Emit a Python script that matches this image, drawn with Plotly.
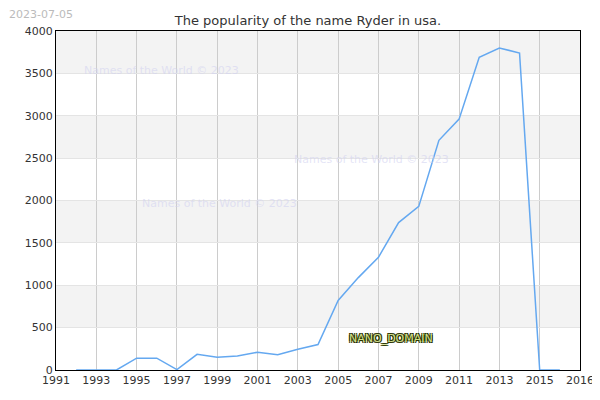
import plotly.graph_objects as go

years = list(range(1992, 2017))
counts = [0, 0, 0, 140, 140, 5, 185, 150, 165, 210, 180, 245, 300, 820, 1090,
          1330, 1740, 1930, 2710, 2960, 3690, 3800, 3740, 0, 0]
x_tick_vals = [1991, 1993, 1995, 1997, 1999, 2001, 2003, 2005, 2007, 2009, 2011, 2013, 2015, 2017]
x_tick_text = ["1991", "1993", "1995", "1997", "1999", "2001", "2003", "2005", "2007",
               "2009", "2011", "2013", "2015", "2016"]
y_ticks = [0, 500, 1000, 1500, 2000, 2500, 3000, 3500, 4000]

fig = go.Figure(go.Scatter(x=years, y=counts, mode="lines",
                           line=dict(color="#64a8f0", width=1.5)))

# alternating horizontal bands
for lo in (500, 1500, 2500, 3500):
    fig.add_shape(type="rect", xref="paper", x0=0, x1=1, y0=lo, y1=lo + 500,
                  fillcolor="#f3f3f3", line_width=0, layer="below")

for txt, x, y in [("Names of the World © 2023", 0.05, 0.91),
                  ("Names of the World © 2023", 0.45, 0.62),
                  ("Names of the World © 2023", 0.16, 0.49)]:
    fig.add_annotation(text=txt, xref="paper", yref="paper", x=x, y=y, xanchor="left",
                       showarrow=False, font=dict(color="rgba(210,210,240,0.6)", size=11))

fig.add_annotation(text="NANO_DOMAIN", xref="paper", x=0.64, y=370, xanchor="center",
                   showarrow=False,
                   font=dict(color="#d4e08a", size=11, family="DejaVu Sans",
                             shadow="1px 1px 0 #2a3300, -1px -1px 0 #2a3300, 1px -1px 0 #2a3300, -1px 1px 0 #2a3300"))
fig.add_annotation(text="2023-07-05", xref="paper", yref="paper", x=-0.093, y=1.075,
                   xanchor="left", showarrow=False, font=dict(color="#bbbbbb", size=11))

fig.update_layout(
    width=600, height=400, template="plotly_white",
    plot_bgcolor="white", paper_bgcolor="white",
    margin=dict(l=48, r=28, t=23, b=38),
    title=dict(text="The popularity of the name Ryder in usa.", x=0.5, y=0.98,
               font=dict(size=13, color="#333")),
    font=dict(family="DejaVu Sans", size=11, color="#333"),
    showlegend=False,
    xaxis=dict(range=[1991, 2017], tickvals=x_tick_vals, ticktext=x_tick_text,
               showgrid=True, gridcolor="#cccccc",
               showline=True, linecolor="black", mirror=True, zeroline=False,
               tickangle=0, automargin=False),
    yaxis=dict(range=[0, 4000], tickvals=y_ticks, showgrid=True, gridcolor="#e4e4e4",
               showline=True, linecolor="black", mirror=True, zeroline=False,
               automargin=False),
)
fig.write_html("out.html")
